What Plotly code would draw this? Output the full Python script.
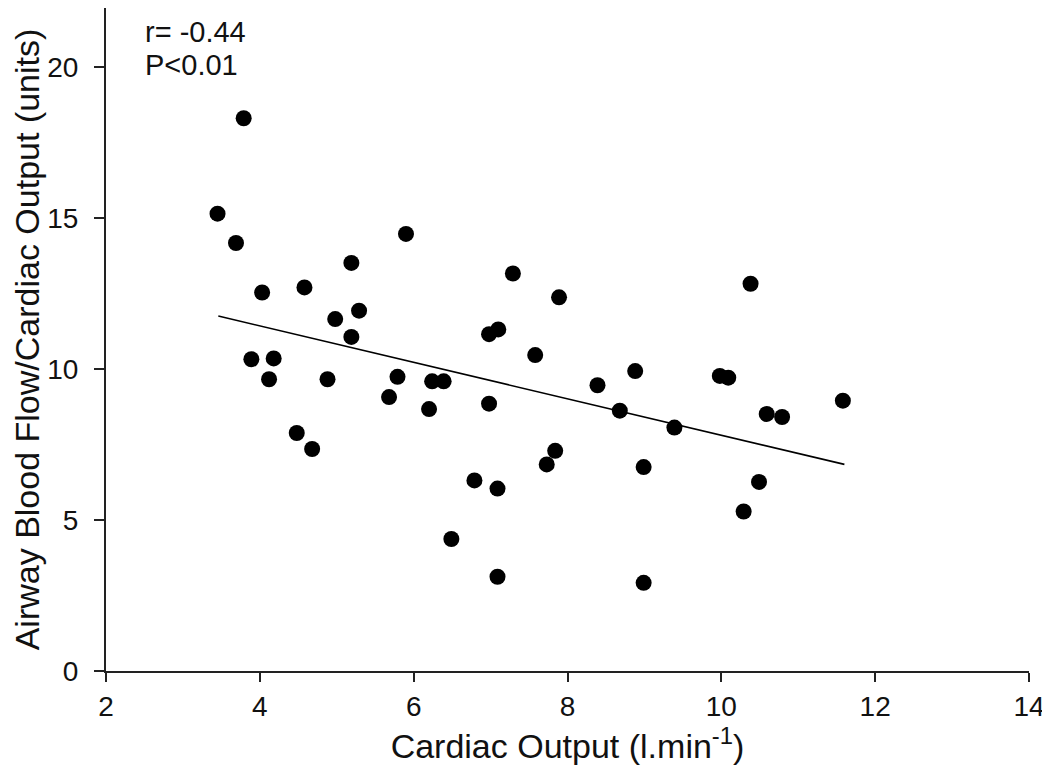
import plotly.graph_objects as go

cardiac_output = [3.45, 3.69, 3.79, 3.89, 4.03, 4.12, 4.18, 4.48, 4.58, 4.68,
                  4.88, 4.98, 5.19, 5.19, 5.29, 5.68, 5.79, 5.90, 6.20, 6.24,
                  6.39, 6.49, 6.79, 6.98, 6.98, 7.10, 7.09, 7.09, 7.29, 7.58,
                  7.73, 7.84, 7.89, 8.39, 8.68, 8.88, 8.99, 8.99, 9.39, 9.98,
                  10.09, 10.29, 10.38, 10.49, 10.59, 10.79, 11.58]
flow_ratio = [15.14, 14.17, 18.30, 10.32, 12.53, 9.66, 10.35, 7.88, 12.70, 7.35,
              9.66, 11.65, 13.51, 11.06, 11.93, 9.07, 9.74, 14.47, 8.67, 9.59,
              9.59, 4.37, 6.31, 8.85, 11.15, 11.31, 6.04, 3.12, 13.16, 10.46,
              6.84, 7.29, 12.37, 9.46, 8.62, 9.93, 6.75, 2.92, 8.06, 9.77,
              9.71, 5.28, 12.82, 6.26, 8.51, 8.41, 8.95]

fit_x = [3.46, 11.60]
fit_y = [11.75, 6.84]

x_ticks = [2, 4, 6, 8, 10, 12, 14]
y_ticks = [0, 5, 10, 15, 20]

FONT = "Liberation Sans, Arial, sans-serif"

fig = go.Figure()
fig.add_trace(go.Scatter(x=fit_x, y=fit_y, mode="lines",
                         line=dict(color="black", width=1.6), hoverinfo="skip"))
fig.add_trace(go.Scatter(x=cardiac_output, y=flow_ratio, mode="markers",
                         marker=dict(color="black", size=16, line=dict(width=0))))

fig.add_annotation(x=2.5, y=21.17, xref="x", yref="y", text="r= -0.44",
                   showarrow=False, xanchor="left", yanchor="middle", borderpad=0,
                   font=dict(family=FONT, size=29, color="#111"))
fig.add_annotation(x=2.5, y=20.05, xref="x", yref="y", text="P<0.01",
                   showarrow=False, xanchor="left", yanchor="middle", borderpad=0,
                   font=dict(family=FONT, size=29, color="#111"))

# the page body adds an 8px offset; the figure is sized to compensate
fig.update_layout(
    width=1042, height=766,
    margin=dict(l=98, r=21, t=0, b=103),
    paper_bgcolor="white", plot_bgcolor="white",
    showlegend=False,
    font=dict(family=FONT, size=28, color="#111"),
)
fig.update_xaxes(range=[2, 14], tickvals=x_ticks, showgrid=False, zeroline=False,
                 showline=True, linecolor="#222", linewidth=2,
                 ticks="outside", ticklen=9, tickwidth=1.5, tickcolor="#222",
                 tickfont=dict(size=28), automargin=False,
                 title=dict(text="Cardiac Output (l.min<sup>-1</sup>)",
                            font=dict(size=34), standoff=12))
fig.update_yaxes(range=[0, 21.95], tickvals=y_ticks, showgrid=False, zeroline=False,
                 showline=True, linecolor="#222", linewidth=2,
                 ticks="outside", ticklen=10, tickwidth=1.5, tickcolor="#222",
                 tickfont=dict(size=28), ticklabelstandoff=10, automargin=False,
                 title=dict(text="Airway Blood Flow/Cardiac Output (units)",
                            font=dict(size=34), standoff=4))

fig.write_html("out.html")
